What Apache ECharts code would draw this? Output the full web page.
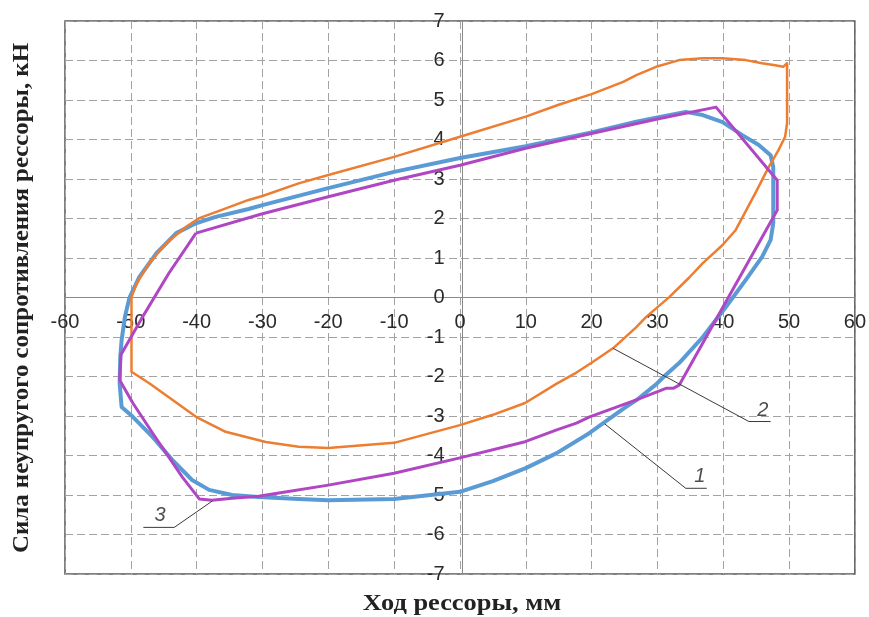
<!DOCTYPE html>
<html>
<head>
<meta charset="utf-8">
<script src="https://cdn.jsdelivr.net/npm/echarts@6/dist/echarts.min.js"></script>
<style>
  html, body { margin: 0; padding: 0; background: #fff; }
  #chart { width: 869px; height: 617px; }
</style>
</head>
<body>
<div id="chart"></div>
<script>
// Hysteresis loops of spring inelastic resistance force (kN) vs spring travel (mm)
const xTicks = [-60, -50, -40, -30, -20, -10, 0, 10, 20, 30, 40, 50, 60];
const yTicks = [-7, -6, -5, -4, -3, -2, -1, 0, 1, 2, 3, 4, 5, 6, 7];

// Curve 1 (blue): measured loop
const curve1 = [
  [-50.2, 0.0], [-48.7, 0.52], [-46.1, 1.12], [-43.1, 1.63], [-40.1, 1.88], [-37.1, 2.04],
  [-32.1, 2.24], [-30, 2.34], [-20, 2.77], [-10, 3.18], [0, 3.53], [10, 3.83],
  [20, 4.18], [26.8, 4.45], [30, 4.56], [34.3, 4.70], [36.9, 4.62], [39.9, 4.44],
  [42.9, 4.11], [45.4, 3.86], [47.2, 3.6], [47.6, 3.3], [47.6, 2.46], [47.6, 1.88],
  [47.2, 1.46], [45.9, 1.03], [43.4, 0.44], [40.4, -0.24], [36.9, -1.0], [33.3, -1.66],
  [31, -2.0], [29.8, -2.2], [26.8, -2.6], [24.8, -2.82], [19.7, -3.43], [14.7, -3.94],
  [10, -4.32], [5, -4.65], [0, -4.92], [-10, -5.1], [-20, -5.13], [-24.5, -5.1],
  [-30.6, -5.05], [-34.6, -5.0], [-38.1, -4.87], [-40.7, -4.62], [-43.7, -4.11],
  [-46.7, -3.53], [-49.7, -3.02], [-51.4, -2.77], [-51.7, -2.17], [-51.6, -1.5],
  [-51.4, -1.08], [-50.9, -0.49], [-50.2, 0.0]
];

// Curve 2 (orange): measured loop
const curve2 = [
  [-49.9, 0.01], [-49.1, 0.36], [-47.2, 0.87], [-44.6, 1.38], [-41.6, 1.79], [-39.6, 2.01],
  [-37.1, 2.16], [-32.1, 2.47], [-30, 2.57], [-24.5, 2.89], [-20, 3.1], [-10, 3.56],
  [0, 4.07], [10, 4.58], [15, 4.88], [20, 5.15], [24.8, 5.46], [26.8, 5.63],
  [29.8, 5.84], [33.3, 6.01], [36.9, 6.06], [39.9, 6.06], [43.4, 6.01], [45.9, 5.93],
  [47.9, 5.88], [49.1, 5.84], [49.7, 5.93], [49.7, 5.68], [49.7, 4.41], [49.4, 4.07],
  [48.4, 3.73], [46.9, 3.3], [44.9, 2.65], [41.9, 1.71], [39.9, 1.33], [36.9, 0.87],
  [34.8, 0.5], [31.8, 0.01], [28.3, -0.49], [26.8, -0.75], [23.3, -1.28], [20, -1.65],
  [17.7, -1.9], [14.7, -2.18], [9.9, -2.67], [5, -2.97], [0, -3.23], [-10, -3.68],
  [-20, -3.81], [-24.5, -3.78], [-29.5, -3.66], [-35.6, -3.40], [-40.1, -3.02],
  [-43.7, -2.59], [-47.2, -2.17], [-49.9, -1.88], [-49.9, 0.01]
];

// Curve 3 (purple): piecewise model loop
const curve3 = [
  [-40.1, 1.63], [-30, 2.12], [-20, 2.55], [-10, 2.97], [0, 3.35], [10, 3.78],
  [20, 4.15], [30, 4.52], [38.9, 4.82], [48.2, 2.97], [48.2, 2.21], [33.3, -2.22],
  [32.4, -2.30], [31.3, -2.30], [26.8, -2.59], [19.7, -3.02], [17.7, -3.18],
  [14.7, -3.35], [9.9, -3.65], [0, -4.06], [-10, -4.45], [-20, -4.75], [-27.5, -4.95],
  [-30.6, -5.03], [-34.6, -5.08], [-37.7, -5.13], [-39.6, -5.10], [-42.2, -4.54],
  [-46.7, -3.43], [-49.7, -2.67], [-51.7, -2.09], [-51.5, -1.45], [-48.2, -0.49],
  [-44.2, 0.62], [-40.1, 1.63]
];

// Callout leaders and their numbers
const leader1 = [[22.0, -3.2], [34.3, -4.83], [37.5, -4.83]];
const leader2 = [[23.3, -1.29], [43.9, -3.14], [47.2, -3.14]];
const leader3 = [[-37.6, -5.15], [-43.4, -5.82], [-48.1, -5.82]];
const calloutNames = ['1', '2', '3'];
const calloutPos = [[36.45, -4.54], [46.0, -2.85], [-45.55, -5.51]];

const xTitle = 'Ход рессоры, мм';
const yTitle = 'Сила неупругого сопротивления рессоры, кН';

const chart = echarts.init(document.getElementById('chart'), null, { renderer: 'canvas' });

// plot box in pixels
const G = { left: 65, right: 9, top: 21, bottom: 43 };
const plotW = 869 - G.left - G.right;
const plotH = 617 - G.top - G.bottom;
// shift the axes from the box edges to the zero lines
const xAxisShift = -plotH * (0 - yTicks[0]) / (yTicks[yTicks.length - 1] - yTicks[0]);
const yAxisShift = -plotW * (0 - xTicks[0]) / (xTicks[xTicks.length - 1] - xTicks[0]);

const gridDash = { color: '#a3a3a3', width: 1, type: [8, 4] };
const tickFont = { fontFamily: '"Liberation Sans", Arial, sans-serif', fontSize: 20, color: '#2a2a2a' };

function leaderSeries(data) {
  return {
    type: 'line', data: data, symbol: 'none', silent: true, z: 5,
    lineStyle: { color: '#3a3a3a', width: 1 }, animation: false
  };
}

chart.setOption({
  animation: false,
  backgroundColor: '#ffffff',
  grid: {
    left: G.left, right: G.right, top: G.top, bottom: G.bottom,
    show: true, borderColor: '#555555', borderWidth: 1.5, backgroundColor: 'transparent'
  },
  xAxis: {
    type: 'value', min: xTicks[0], max: xTicks[xTicks.length - 1], interval: 10,
    position: 'bottom', offset: xAxisShift,
    axisLine: { onZero: false, lineStyle: { color: '#8a8a8a', width: 1 } },
    axisTick: { show: false },
    axisLabel: Object.assign({ margin: 15, showMinLabel: true, showMaxLabel: true }, tickFont),
    splitLine: { show: true, lineStyle: gridDash }
  },
  yAxis: {
    type: 'value', min: yTicks[0], max: yTicks[yTicks.length - 1], interval: 1,
    position: 'left', offset: yAxisShift,
    axisLine: { onZero: false, lineStyle: { color: '#8a8a8a', width: 1 } },
    axisTick: { show: false },
    axisLabel: Object.assign({ margin: 18, showMinLabel: true, showMaxLabel: true }, tickFont),
    splitLine: { show: true, lineStyle: gridDash }
  },
  series: [
    {
      name: '1', type: 'line', data: curve1, symbol: 'none', z: 2,
      lineStyle: { color: '#5b9bd5', width: 4, join: 'round' }
    },
    {
      name: '2', type: 'line', data: curve2, symbol: 'none', z: 3,
      lineStyle: { color: '#ed7d31', width: 2.5, join: 'round' }
    },
    {
      name: '3', type: 'line', data: curve3, symbol: 'none', z: 4,
      lineStyle: { color: '#b046c4', width: 3, join: 'round' }
    },
    leaderSeries(leader1),
    leaderSeries(leader2),
    leaderSeries(leader3),
    {
      type: 'scatter', symbolSize: 0, silent: true, z: 6,
      data: calloutNames.map((n, i) => ({ name: n, value: calloutPos[i] })),
      label: {
        show: true, position: 'inside', formatter: '{b}',
        fontFamily: '"Liberation Sans", Arial, sans-serif', fontStyle: 'italic',
        fontSize: 20, color: '#222'
      }
    }
  ],
  graphic: [
    {
      type: 'text', x: 462, y: 604, scaleX: 1.1,
      style: {
        text: xTitle, font: 'bold 24px "Liberation Serif", "Times New Roman", serif',
        fill: '#222', textAlign: 'center', textVerticalAlign: 'middle',
        align: 'center', verticalAlign: 'middle'
      }
    },
    {
      type: 'text', x: 22, y: 298, rotation: Math.PI / 2, scaleX: 1.08,
      style: {
        text: yTitle, font: 'bold 23px "Liberation Serif", "Times New Roman", serif',
        fill: '#222', textAlign: 'center', textVerticalAlign: 'middle',
        align: 'center', verticalAlign: 'middle'
      }
    }
  ]
});
</script>
</body>
</html>
